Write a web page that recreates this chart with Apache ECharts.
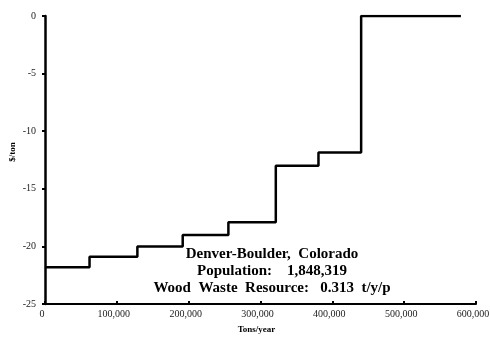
<!DOCTYPE html>
<html>
<head>
<meta charset="utf-8">
<script src="https://cdn.jsdelivr.net/npm/echarts@6/dist/echarts.min.js"></script>
<style>html,body{margin:0;padding:0;background:#fff}#c{width:490px;height:339px}</style>
</head>
<body>
<div id="c"></div>
<script>
const tonsPerYear = [0, 62000, 128600, 191700, 255300, 321300, 380700, 440100, 579000];
const costPerTon = [-21.8, -20.9, -20.0, -19.0, -17.9, -13.0, -11.85, 0, 0];
const annotationLines = ['Denver-Boulder,  Colorado', 'Population:    1,848,319', 'Wood  Waste  Resource:   0.313  t/y/p'];
const xTitle = 'Tons/year';
const yTitle = '$/ton';

const chart = echarts.init(document.getElementById('c'));
const serif = '"Liberation Serif", "Times New Roman", serif';
chart.setOption({
  animation: false,
  grid: {left: 45, right: 14, top: 16, bottom: 35, containLabel: false, outerBoundsMode: 'none'},
  xAxis: {
    type: 'value', min: 0, max: 600000, interval: 100000,
    name: xTitle, nameLocation: 'middle', nameGap: 21,
    nameTextStyle: {fontFamily: serif, fontWeight: 'bold', fontSize: 9, color: '#000', padding: [0, 8, 0, 0]},
    axisLine: {onZero: false, lineStyle: {color: '#000', width: 2}},
    axisTick: {inside: true, length: 3, lineStyle: {color: '#000', width: 2}},
    axisLabel: {fontFamily: serif, fontSize: 10, color: '#222', margin: 5, padding: [0, 6, 0, 0],
      formatter: v => v.toLocaleString('en-US')},
    splitLine: {show: false}
  },
  yAxis: {
    type: 'value', min: -25, max: 0, interval: 5,
    name: yTitle, nameLocation: 'middle', nameGap: 28, nameMoveOverlap: false,
    nameTextStyle: {fontFamily: serif, fontWeight: 'bold', fontSize: 9, color: '#000', padding: [0, 0, 0, 16]},
    axisLine: {show: true, onZero: false, lineStyle: {color: '#000', width: 2.5}},
    axisTick: {show: true, length: 3, lineStyle: {color: '#000', width: 2}},
    axisLabel: {fontFamily: serif, fontSize: 10, color: '#222', margin: 9},
    splitLine: {show: false}
  },
  series: [{
    type: 'line', step: 'end', symbol: 'none',
    data: tonsPerYear.map((x, i) => [x, costPerTon[i]]),
    lineStyle: {color: '#000', width: 2.5}
  }],
  graphic: annotationLines.map((t, i) => ({
    type: 'text', x: 272, y: 254 + i * 17,
    style: {text: t, font: 'bold 15px ' + serif, fill: '#000', textAlign: 'center', textVerticalAlign: 'middle'}
  }))
});
</script>
</body>
</html>
